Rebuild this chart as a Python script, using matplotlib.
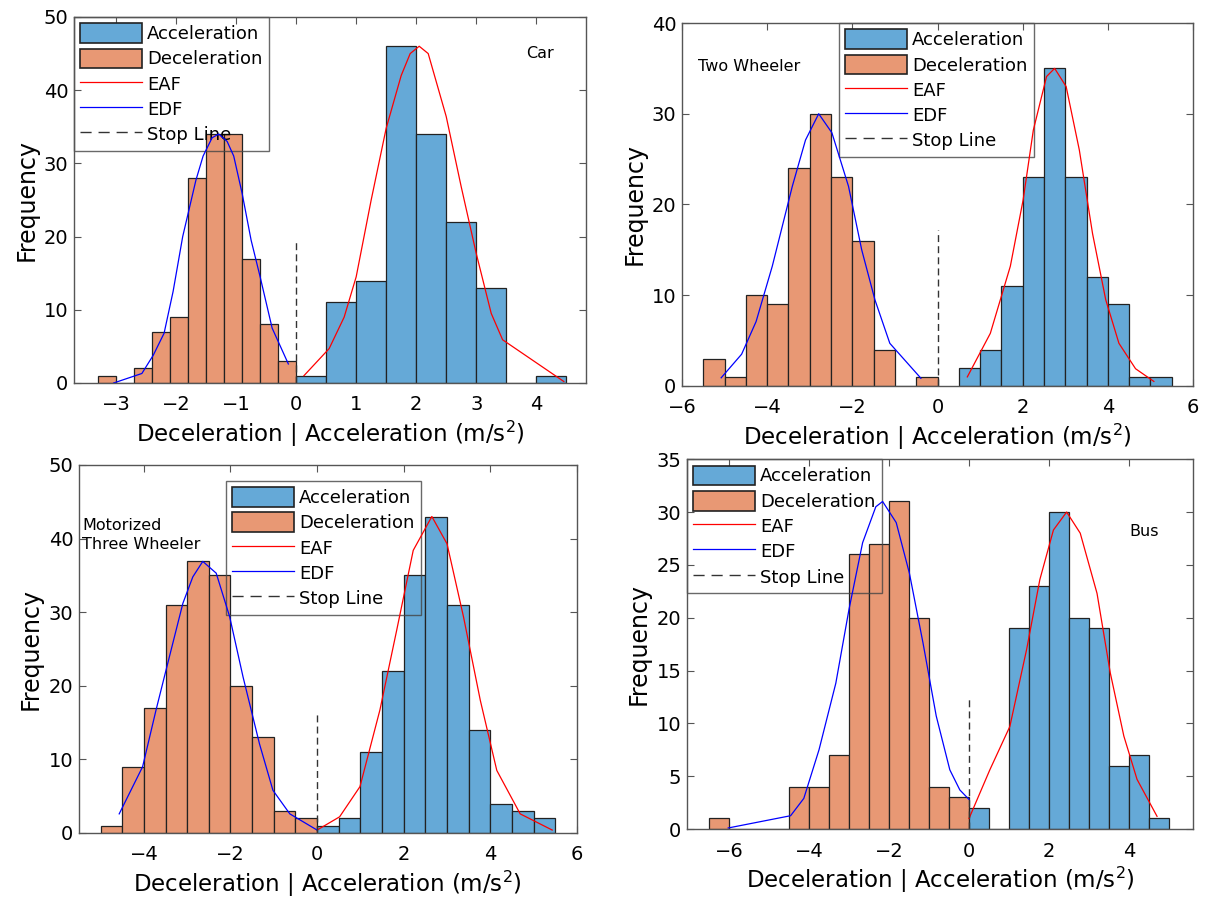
import numpy as np
import matplotlib.pyplot as plt
from matplotlib.lines import Line2D
from matplotlib.patches import Patch

ACC_COLOR = '#65a9d7'
DEC_COLOR = '#e89874'

# ---- Car ----
car_dec_edges = [-3.3, -3.0, -2.7, -2.4, -2.1, -1.8, -1.5, -1.2, -0.9, -0.6, -0.3, 0.0]
car_dec_counts = [1, 0, 2, 7, 9, 28, 34, 34, 17, 8, 3]
car_acc_edges = [0.0, 0.5, 1.0, 1.5, 2.0, 2.5, 3.0, 3.5, 4.0, 4.5]
car_acc_counts = [1, 11, 14, 46, 34, 22, 13, 0, 1]
car_edf_x = [-3.04, -2.57, -2.38, -2.2, -2.05, -1.89, -1.67, -1.55, -1.4, -1.29, -1.15, -1.04, -0.9, -0.75, -0.6, -0.4, -0.13]
car_edf_y = [0.0, 1.3, 3.8, 6.8, 12.5, 20, 27.7, 31, 33.5, 34, 33, 31, 25.9, 19.5, 14.5, 7.5, 2.6]
car_eaf_x = [0.13, 0.55, 0.8, 1.0, 1.25, 1.5, 1.75, 1.9, 2.05, 2.2, 2.5, 2.75, 3.0, 3.25, 3.44, 4.46]
car_eaf_y = [1.0, 4.7, 9.0, 14.5, 25, 34.8, 42, 45, 46, 45, 36.4, 26.8, 17.7, 9.5, 5.9, 0.2]

# ---- Two Wheeler ----
tw_dec_edges = [-5.5, -5.0, -4.5, -4.0, -3.5, -3.0, -2.5, -2.0, -1.5, -1.0, -0.5, 0.0]
tw_dec_counts = [3, 1, 10, 9, 24, 30, 23, 16, 4, 0, 1]
tw_acc_edges = [0.5, 1.0, 1.5, 2.0, 2.5, 3.0, 3.5, 4.0, 4.5, 5.0, 5.5]
tw_acc_counts = [2, 4, 11, 23, 35, 23, 12, 9, 1, 1]
tw_edf_x = [-5.08, -4.6, -4.26, -3.88, -3.41, -3.10, -2.79, -2.48, -2.09, -1.78, -1.47, -1.12, -0.39]
tw_edf_y = [0.9, 3.5, 7.1, 13.2, 22, 27.1, 30, 27.9, 22, 15, 9.5, 4.7, 0.85]
tw_eaf_x = [0.70, 1.24, 1.71, 2.01, 2.25, 2.56, 2.75, 3.02, 3.33, 3.64, 3.95, 4.26, 4.65, 5.08]
tw_eaf_y = [1.0, 5.8, 13.2, 20.5, 28.2, 34.1, 35.0, 33, 26, 16.8, 9.5, 4.7, 1.9, 0.5]

# ---- Motorized Three Wheeler ----
mtw_dec_edges = [-5.0, -4.5, -4.0, -3.5, -3.0, -2.5, -2.0, -1.5, -1.0, -0.5, 0.0]
mtw_dec_counts = [1, 9, 17, 31, 37, 35, 20, 13, 3, 2]
mtw_acc_edges = [0.0, 0.5, 1.0, 1.5, 2.0, 2.5, 3.0, 3.5, 4.0, 4.5, 5.0, 5.5]
mtw_acc_counts = [1, 2, 11, 22, 35, 43, 31, 14, 4, 3, 2]
mtw_edf_x = [-4.57, -4.03, -3.72, -3.49, -3.10, -2.87, -2.64, -2.33, -2.02, -1.71, -1.33, -1.02, -0.63, 0.0]
mtw_edf_y = [2.6, 9.0, 16.7, 22.1, 31.2, 34.8, 36.9, 35.3, 29.4, 21.2, 12.1, 5.8, 2.6, 0.4]
mtw_eaf_x = [0.0, 0.52, 0.99, 1.45, 1.84, 2.22, 2.65, 3.0, 3.38, 3.77, 4.15, 4.69, 5.43]
mtw_eaf_y = [0.4, 2.2, 6.3, 16.7, 27.6, 38.4, 43, 39.3, 29.4, 18, 8.5, 2.6, 0.4]

# ---- Bus ----
bus_dec_edges = [-6.5, -6.0, -5.5, -5.0, -4.5, -4.0, -3.5, -3.0, -2.5, -2.0, -1.5, -1.0, -0.5, 0.0]
bus_dec_counts = [1, 0, 0, 0, 4, 4, 7, 26, 27, 31, 20, 4, 3]
bus_acc_edges = [0.0, 0.5, 1.0, 1.5, 2.0, 2.5, 3.0, 3.5, 4.0, 4.5, 5.0]
bus_acc_counts = [2, 0, 19, 23, 30, 20, 19, 6, 7, 1]
bus_edf_x = [-6.02, -4.46, -4.13, -3.75, -3.33, -3.0, -2.66, -2.33, -2.16, -1.82, -1.49, -1.15, -0.82, -0.48, -0.23, 0.0]
bus_edf_y = [0.1, 1.26, 2.9, 7.5, 13.8, 20.8, 27.1, 30.5, 31, 29, 24.2, 17.6, 10.7, 5.6, 3.7, 2.8]
bus_eaf_x = [0.0, 0.52, 1.02, 1.44, 1.77, 2.11, 2.44, 2.78, 3.2, 3.53, 3.87, 4.20, 4.70]
bus_eaf_y = [1.0, 5.6, 9.7, 17, 23.6, 28.3, 30, 28, 22.3, 14.8, 8.8, 4.7, 1.2]

XLABEL = 'Deceleration | Acceleration (m/s$^2$)'


def hist_panel(ax, dec_edges, dec_counts, acc_edges, acc_counts,
               edf_x, edf_y, eaf_x, eaf_y, stop_top):
    de = np.array(dec_edges)
    ae = np.array(acc_edges)
    ax.bar(de[:-1], dec_counts, width=np.diff(de), align='edge',
           color=DEC_COLOR, edgecolor='#222222', linewidth=0.9, zorder=3)
    ax.bar(ae[:-1], acc_counts, width=np.diff(ae), align='edge',
           color=ACC_COLOR, edgecolor='#222222', linewidth=0.9, zorder=3)
    ax.plot(eaf_x, eaf_y, color='red', lw=0.9, zorder=6)
    ax.plot(edf_x, edf_y, color='blue', lw=0.9, zorder=6)
    ax.plot([0, 0], [0, stop_top], color='#333333', lw=1.0, ls=(0, (5, 3)), zorder=6)


def style(ax, xlim, xticks, ylim, yticks):
    ax.set_xlim(xlim)
    ax.set_ylim(ylim)
    ax.set_xticks(xticks)
    ax.set_yticks(yticks)
    ax.tick_params(direction='in', top=True, right=True, labelsize=14,
                   length=5, color='#555555')
    ax.tick_params(axis='x', pad=9)
    ax.tick_params(axis='y', pad=4)
    for s in ax.spines.values():
        s.set_color('#555555')
        s.set_linewidth(1.0)
        s.set_zorder(7)
    ax.set_xlabel(XLABEL, fontsize=16.5, labelpad=3)
    ax.set_ylabel('Frequency', fontsize=17, labelpad=4)


def add_legend(ax, anchor):
    handles = [Patch(facecolor=ACC_COLOR, edgecolor='#222222', linewidth=1.2),
               Patch(facecolor=DEC_COLOR, edgecolor='#222222', linewidth=1.2),
               Line2D([], [], color='red', lw=0.9),
               Line2D([], [], color='blue', lw=0.9),
               Line2D([], [], color='#333333', lw=1.0, ls=(0, (8, 5)))]
    labels = ['Acceleration', 'Deceleration', 'EAF', 'EDF', 'Stop Line']
    leg = ax.legend(handles, labels, loc='upper left', bbox_to_anchor=anchor,
                    borderaxespad=0, fontsize=13, frameon=True, fancybox=False,
                    handlelength=3.4, handleheight=1.3, labelspacing=0.3,
                    handletextpad=0.3, borderpad=0.35)
    leg.get_frame().set_facecolor('none')
    leg.get_frame().set_edgecolor('#444444')
    leg.get_frame().set_linewidth(1.0)
    leg.set_zorder(5)


def main():
    fig = plt.figure(figsize=(12.22, 9.02), dpi=100)

    ax1 = fig.add_axes([0.0606, 0.5754, 0.419, 0.4058])
    hist_panel(ax1, car_dec_edges, car_dec_counts, car_acc_edges, car_acc_counts,
               car_edf_x, car_edf_y, car_eaf_x, car_eaf_y, 19.6)
    style(ax1, (-3.7, 4.83), [-3, -2, -1, 0, 1, 2, 3, 4], (0, 50), range(0, 51, 10))
    add_legend(ax1, (0.0, 1.0))
    ax1.text(4.07, 45, 'Car', fontsize=11.5, ha='center', va='center')

    ax2 = fig.add_axes([0.5581, 0.5721, 0.4182, 0.4024])
    hist_panel(ax2, tw_dec_edges, tw_dec_counts, tw_acc_edges, tw_acc_counts,
               tw_edf_x, tw_edf_y, tw_eaf_x, tw_eaf_y, 17.2)
    style(ax2, (-6, 6), [-6, -4, -2, 0, 2, 4, 6], (0, 40), range(0, 41, 10))
    add_legend(ax2, (0.307, 1.0))
    ax2.text(-5.62, 35.2, 'Two Wheeler', fontsize=11.5, ha='left', va='center')

    ax3 = fig.add_axes([0.0646, 0.0765, 0.4075, 0.408])
    hist_panel(ax3, mtw_dec_edges, mtw_dec_counts, mtw_acc_edges, mtw_acc_counts,
               mtw_edf_x, mtw_edf_y, mtw_eaf_x, mtw_eaf_y, 16.2)
    style(ax3, (-5.5, 6), [-4, -2, 0, 2, 4, 6], (0, 50), range(0, 51, 10))
    add_legend(ax3, (0.295, 0.957))
    ax3.text(-5.42, 40.5, 'Motorized\nThree Wheeler', fontsize=11.5, ha='left',
             va='center', linespacing=1.4)

    ax4 = fig.add_axes([0.5622, 0.0809, 0.4141, 0.410])
    hist_panel(ax4, bus_dec_edges, bus_dec_counts, bus_acc_edges, bus_acc_counts,
               bus_edf_x, bus_edf_y, bus_eaf_x, bus_eaf_y, 12.55)
    style(ax4, (-7.05, 5.6), [-6, -4, -2, 0, 2, 4], (0, 35), range(0, 36, 5))
    add_legend(ax4, (0.0, 1.0))
    ax4.text(4.37, 28.2, 'Bus', fontsize=11.5, ha='center', va='center')

    fig.savefig('out.png', dpi=100)


main()
